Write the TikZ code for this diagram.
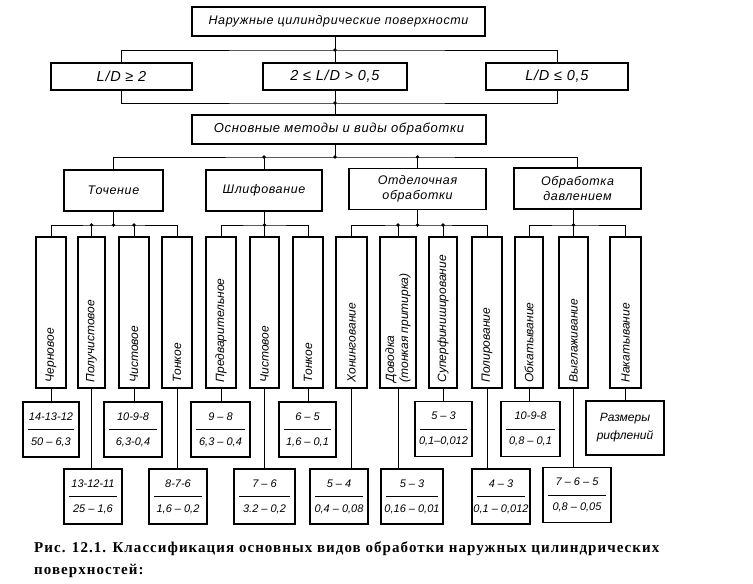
\documentclass[tikz,border=0pt]{standalone}
\usepackage{fontspec}
\setmainfont{Liberation Serif}
\newfontfamily\gostfont{Liberation Sans}
\newfontfamily\gostwide[LetterSpace=5]{Liberation Sans}
\newfontfamily\capfont[LetterSpace=7]{Liberation Serif}
\usetikzlibrary{positioning}
\tikzset{%
  font=\gostfont\itshape\fontsize{12pt}{14pt}\selectfont,
  frame/.style={draw,line width=1.1pt,inner sep=0pt,align=center,font=\gostwide\itshape\fontsize{12.5pt}{15pt}\selectfont},
  ratio/.style={frame,minimum height=27pt,font=\gostwide\itshape\fontsize{14.5pt}{17pt}\selectfont},
  leaf box/.style={draw,line width=1.1pt,inner sep=0pt,minimum height=151pt},
  leaf text/.style={rotate=90,anchor=west,inner sep=0pt,align=left},
  frac box/.style={draw,line width=1.1pt,inner sep=0pt,align=center,minimum height=55pt,
    font=\gostfont\itshape\fontsize{11pt}{13pt}\selectfont,
    path picture={\draw[line width=.8pt] ([xshift=5pt]path picture bounding box.west) -- ([xshift=-5pt]path picture bounding box.east);}},
  link/.style={line width=1pt},
  junction/.style={circle,fill,inner sep=0pt,minimum size=3.6pt},
  caption/.style={font=\capfont\bfseries\fontsize{15pt}{18pt}\selectfont,inner sep=0pt,anchor=west}
}
\begin{document}
\begin{tikzpicture}[x=1pt,y=-1pt]
	\useasboundingbox (0,0) rectangle (753,584);
	% upper levels
	\node[frame,minimum width=293pt,minimum height=29pt] (surf) at (338.5,21.5) {Наружные цилиндрические поверхности};
	\begin{scope}[every node/.style={ratio}]
	\node[minimum width=141pt] (long) at (121.5,76.5) {L/D ≥ 2};
	\node[minimum width=144pt] (mid) at (335,76.5) {2 ≤ L/D > 0,5};
	\node[minimum width=142pt] (short) at (557,76.5) {L/D ≤ 0,5};
	\end{scope}
	\node[frame,font=\gostwide\itshape\fontsize{13pt}{15pt}\selectfont,minimum width=294pt,minimum height=29pt] (methods) at (339,129.5) {Основные методы и виды обработки};
	\begin{scope}[every node/.style={frame,minimum height=41pt}]
	\node[minimum width=99pt] (turn) at (113.5,190.5) {Точение};
	\node[minimum width=116pt] (grind) at (264,190.5) {Шлифование};
	\node[minimum width=137pt] (finish) at (417.5,189) {Отделочная\\обработки};
	\node[minimum width=127pt] (press) at (577.5,188.5) {Обработка\\давлением};
	\end{scope}
	
	% operations
	\begin{scope}[every node/.style={leaf box}]
	\node[minimum width=30pt] (rough) at (51,312.5) {};
	\node[minimum width=27pt] (semi) at (91.5,312.5) {};
	\node[minimum width=30pt] (clean) at (134,312.5) {};
	\node[minimum width=30pt] (fine) at (177,312.5) {};
	\node[minimum width=30pt] (pre) at (221,312.5) {};
	\node[minimum width=29pt] (gclean) at (264.5,312.5) {};
	\node[minimum width=30pt] (gfine) at (308,312.5) {};
	\node[minimum width=31pt] (hone) at (351.5,312.5) {};
	\node[minimum width=36pt] (lap) at (398,312.5) {};
	\node[minimum width=28pt] (super) at (443,312.5) {};
	\node[minimum width=30pt] (polish) at (487,312.5) {};
	\node[minimum width=28pt] (roll) at (529,312.5) {};
	\node[minimum width=29pt] (burn) at (573.5,312.5) {};
	\node[minimum width=31pt] (knurl) at (625.5,312.5) {};
	\end{scope}
	\begin{scope}[every node/.style={leaf text}]
	\node (roughT) at ([yshift=6pt]rough.south) {Черновое};
	\node (semiT) at ([yshift=6pt]semi.south) {Получистовое};
	\node (cleanT) at ([yshift=6pt]clean.south) {Чистовое};
	\node (fineT) at ([yshift=6pt]fine.south) {Тонкое};
	\node (preT) at ([yshift=6pt]pre.south) {Предварительное};
	\node (gcleanT) at ([yshift=6pt]gclean.south) {Чистовое};
	\node (gfineT) at ([yshift=6pt]gfine.south) {Тонкое};
	\node (honeT) at ([yshift=6pt]hone.south) {Хонингование};
	\node (lapT) at ([yshift=6pt]lap.south) {Доводка\\(тонкая притирка)};
	\node (superT) at ([yshift=6pt]super.south) {Суперфиниширование};
	\node (polishT) at ([yshift=6pt]polish.south) {Полирование};
	\node (rollT) at ([yshift=6pt]roll.south) {Обкатывание};
	\node (burnT) at ([yshift=6pt]burn.south) {Выглаживание};
	\node (knurlT) at ([yshift=6pt]knurl.south) {Накатывание};
	\end{scope}
	
	% grades / roughness
	\begin{scope}[every node/.style={frac box}]
	\node[minimum width=56pt] (vRough) at (51,429.5) {14-13-12\\[12pt]50 – 6,3};
	\node[minimum width=58pt] (vSemi) at (93,496.5) {13-12-11\\[12pt]25 – 1,6};
	\node[minimum width=58pt] (vClean) at (133,429.5) {10-9-8\\[12pt]6,3-0,4};
	\node[minimum width=58pt] (vFine) at (178,496.5) {8-7-6\\[12pt]1,6 – 0,2};
	\node[minimum width=59pt] (vPre) at (220.5,429.5) {9 – 8\\[12pt]6,3 – 0,4};
	\node[minimum width=61pt] (vGclean) at (264.5,496.5) {7 – 6\\[12pt]3.2 – 0,2};
	\node[minimum width=57pt] (vGfine) at (307.5,429.5) {6 – 5\\[12pt]1,6 – 0,1};
	\node[minimum width=58pt] (vHone) at (339,496.5) {5 – 4\\[12pt]0,4 – 0,08};
	\node[minimum width=62pt] (vLap) at (412,496.5) {5 – 3\\[12pt]0,16 – 0,01};
	\node[minimum width=57pt] (vSuper) at (443.5,429) {5 – 3\\[12pt]0,1–0,012};
	\node[minimum width=58pt] (vPolish) at (501,496.5) {4 – 3\\[12pt]0,1 – 0,012};
	\node[minimum width=59pt] (vRoll) at (530.5,429) {10-9-8\\[12pt]0,8 – 0,1};
	\node[minimum width=68pt] (vBurn) at (577,495) {7 – 6 – 5\\[12pt]0,8 – 0,05};
	\end{scope}
	\node[frame,font=\gostfont\itshape\fontsize{12pt}{14pt}\selectfont,minimum width=78pt,minimum height=54pt] (vKnurl) at (625,428) {Размеры\\[4pt]рифлений};
	
	% connectors
	\coordinate (jTop) at (mid.north |- 0,50);
	\coordinate (jMid) at (mid.south |- 0,103);
	\coordinate (jCat) at (mid.south |- 0,157);
	\draw[link] (surf.south -| mid.north) -- (mid.north);
	\draw[link] (long.north) |- (jTop) -| (short.north);
	\draw[link] (long.south) |- (jMid) -| (short.south);
	\draw[link] (mid.south) -- (methods.north -| mid.south);
	\draw[link] (methods.south -| jCat) -- (jCat);
	\draw[link] (turn.north) |- (jCat) -| (press.north);
	\draw[link] (grind.north) -- (grind.north |- jCat);
	\draw[link] (finish.north) -- (finish.north |- jCat);
	
	\coordinate (jTurn) at (turn.south |- 0,225);
	\coordinate (jGrind) at (gclean.north |- 0,225);
	\coordinate (jFinish) at (finish.south |- 0,225);
	\coordinate (jPress) at (burn.north |- 0,225);
	\draw[link] (turn.south) -- (jTurn);
	\draw[link] (rough.north) |- (jTurn) -| (fine.north);
	\draw[link] (semi.north) -- (semi.north |- jTurn);
	\draw[link] (clean.north) -- (clean.north |- jTurn);
	\draw[link] (grind.south -| gclean.north) -- (gclean.north);
	\draw[link] (pre.north) |- (jGrind) -| (gfine.north);
	\draw[link] (finish.south) -- (jFinish);
	\draw[link] (hone.north) |- (jFinish) -| (polish.north);
	\draw[link] (lap.north) -- (lap.north |- jFinish);
	\draw[link] (super.north) -- (super.north |- jFinish);
	\draw[link] (press.south -| burn.north) -- (burn.north);
	\draw[link] (roll.north) |- (jPress) -| (knurl.north);
	
	\foreach \op/\val in {rough/vRough,semi/vSemi,clean/vClean,fine/vFine,pre/vPre,gclean/vGclean,gfine/vGfine,
	  hone/vHone,lap/vLap,super/vSuper,polish/vPolish,roll/vRoll,burn/vBurn,knurl/vKnurl}
	  \draw[link] (\op.south) -- (\op.south |- \val.north);
	
	\begin{scope}[every node/.style={junction}]
	\node (dTop) at (jTop) {};
	\node (dMid) at (jMid) {};
	\node (dCat) at (jCat) {};
	\node (dGrind) at (grind.north |- jCat) {};
	\node (dFinish) at (finish.north |- jCat) {};
	\node (dTurn) at (jTurn) {};
	\node (dSemi) at (semi.north |- jTurn) {};
	\node (dClean) at (clean.north |- jTurn) {};
	\node (dGclean) at (jGrind) {};
	\node (dFin) at (jFinish) {};
	\node (dLap) at (lap.north |- jFinish) {};
	\node (dSuper) at (super.north |- jFinish) {};
	\node (dBurn) at (jPress) {};
	\end{scope}
	
	% caption
	\node[caption] (capA) at (34,549) {Рис. 12.1. Классификация основных видов обработки наружных цилиндрических};
	\node[caption] (capB) at (34,571) {поверхностей:};
\end{tikzpicture}
\end{document}
